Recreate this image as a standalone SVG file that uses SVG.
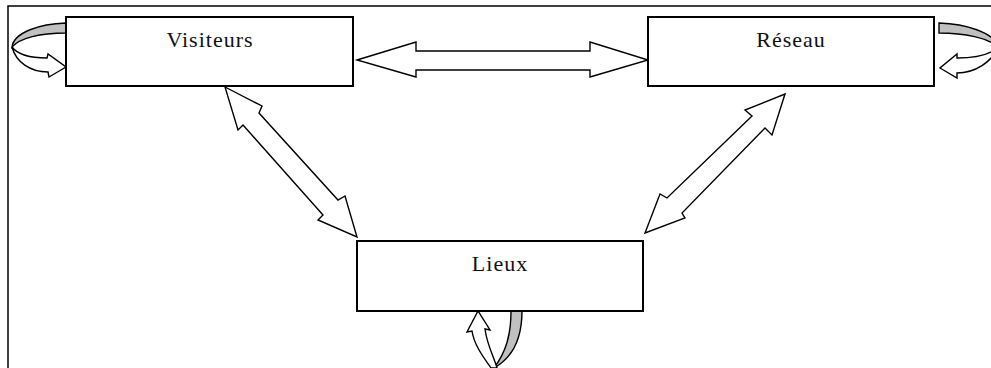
<svg xmlns="http://www.w3.org/2000/svg" width="991" height="368" viewBox="0 0 991 368">
<style>
.box{fill:#fff;stroke:#000;stroke-width:2}
.lbl{font-family:"Liberation Serif","Times New Roman",serif;font-size:22px;letter-spacing:1px;fill:#111;text-anchor:middle}
.arr{fill:#fff;stroke:#000;stroke-width:1.4;stroke-linejoin:miter}
.band{fill:#c0c0c0;stroke:#000;stroke-width:1.4}
.frame{fill:none;stroke:#000;stroke-width:1.5}
</style>
<rect x="0" y="0" width="991" height="368" fill="#fff"/>
<path class="frame" d="M8,368 V6 H991"/>
<g id="connectors">
<polygon class="arr" points="357,60 416,42 416,51 590,51 590,42 648,60 590,77 590,70 416,70 416,77"/>
<polygon class="arr" points="225,87 262,106 259,113 338,200 345,196 357,237 318,220 323,215 243,125 238,130"/>
<polygon class="arr" points="785,94 772,135 765,128 682,213 685,218 645,233 660,194 667,198 752,116 745,110"/>
<g id="loop-visiteurs">
<path class="band" d="M66,23 C40,24 14,32 12,47 C20,38 40,33 66,33 Z"/>
<path class="arr" d="M12,47 C18,55 30,58 47,58 L48,54 L66,67 L49,77 L48,72 C30,72 16,62 12,47 Z"/>
</g>
<g id="loop-reseau">
<path class="band" d="M939,23 C965,24 994,32 998,47 C988,38 965,33 939,33 Z"/>
<path class="arr" d="M998,47 C990,55 975,58 957,58 L957,54 L940,68 L957,78 L957,73 C975,73 992,62 998,47 Z"/>
</g>
<g id="loop-lieux">
<path class="band" d="M511,311 L522,311 C522,340 512,358 494,368 C506,352 511,335 511,311 Z"/>
<path class="arr" d="M491,368 C484,358 474,345 472,331 L467,332 L478,311 L490,330 L485,329 C487,345 494,357 497,368 Z"/>
</g>
</g>
<g id="node-visiteurs">
<rect class="box" x="66" y="17" width="287" height="69"/>
<text class="lbl" x="210" y="47">Visiteurs</text>
</g>
<g id="node-reseau">
<rect class="box" x="648" y="17" width="286" height="69"/>
<text class="lbl" x="791" y="47">Réseau</text>
</g>
<g id="node-lieux">
<rect class="box" x="357" y="241" width="286" height="70"/>
<text class="lbl" x="500" y="271">Lieux</text>
</g>
</svg>
